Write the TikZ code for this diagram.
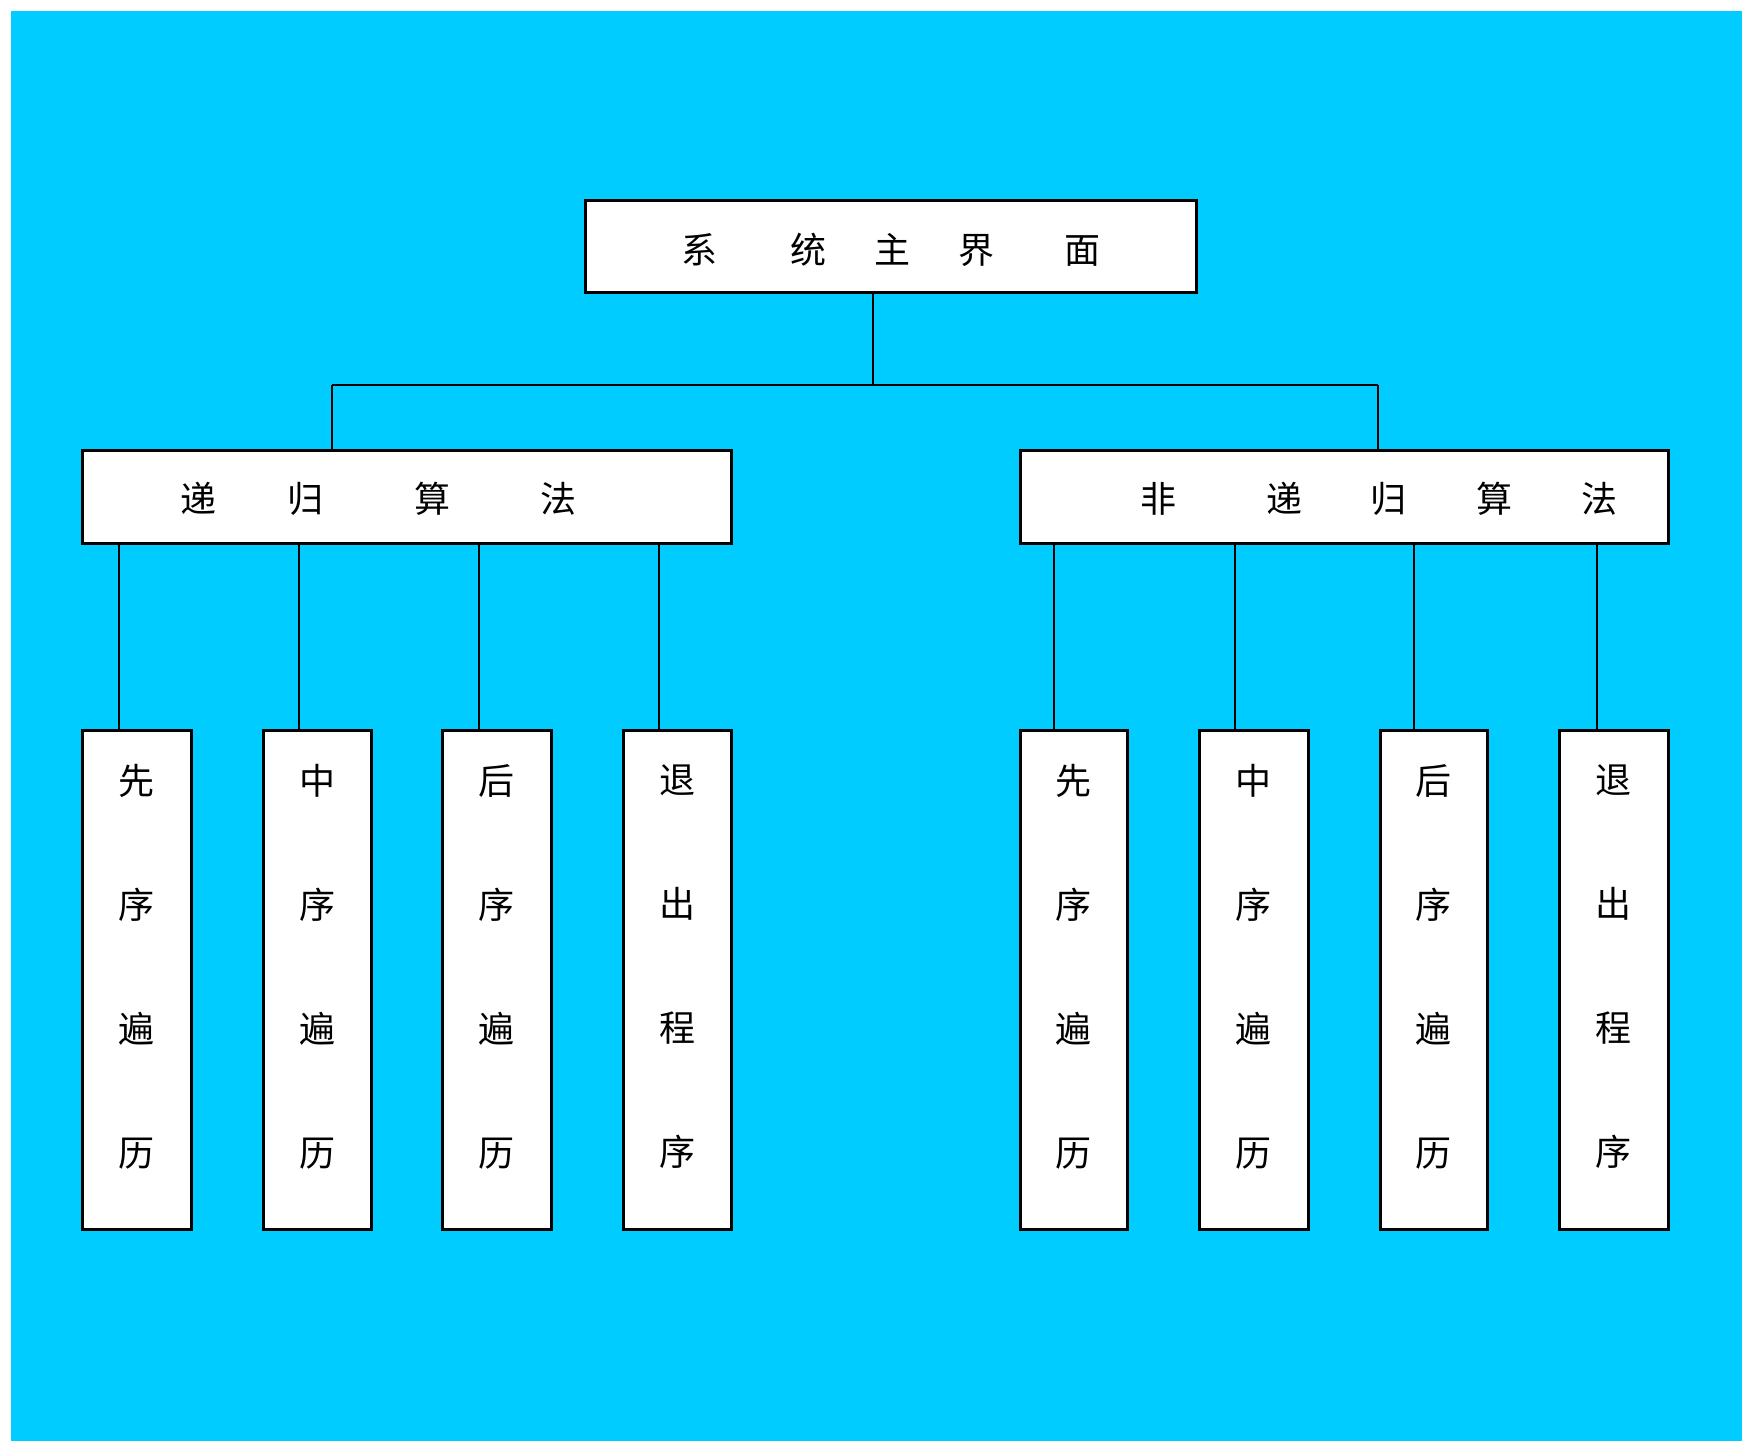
\documentclass[tikz,border=0pt]{standalone}
\usepackage{fontspec}
\newfontfamily\cjk{Noto Sans CJK SC}
\definecolor{bg}{HTML}{00CCFF}
\begin{document}
\begin{tikzpicture}[x=1pt,y=-1pt,
  box/.style={draw=black, line width=3pt, fill=white, inner sep=0pt},
  htext/.style={font=\cjk\fontsize{36}{36}\selectfont},
  leaf/.style={box, minimum height=499pt},
  vtext/.style={align=center, font=\cjk\fontsize{36}{124}\selectfont},
  conn/.style={line width=2.5pt}]
\useasboundingbox (0,0) rectangle (1742,1441);
\fill[bg] (11,11) rectangle (1742,1441);
% top
\node[box, minimum width=611pt, minimum height=92pt,
  label={[name=ttop,yshift=-4pt,htext]center:系\kern73pt 统\kern48pt 主\kern48pt 界\kern70pt 面}] (top) at (891,246) {};
% middle
\node[box, minimum width=649pt, minimum height=93pt,
  label={[name=tL,yshift=-2pt,htext]center:递\kern71.5pt 归\kern90.5pt 算\kern90pt 法\kern56pt}] (L) at (406.5,496.5) {};
\node[box, minimum width=648pt, minimum height=93pt,
  label={[name=tR,yshift=-2pt,htext]center:\kern70pt 非\kern90pt 递\kern69pt 归\kern69pt 算\kern70pt 法}] (R) at (1344,496.5) {};
% leaves
\node[leaf, minimum width=109pt, label={[name=t1,yshift=13pt,vtext]center:先\\序\\遍\\历}] (c1) at (136.5,979.5) {};
\node[leaf, minimum width=108pt, label={[name=t2,yshift=13pt,vtext]center:中\\序\\遍\\历}] (c2) at (317,979.5) {};
\node[leaf, minimum width=109pt, label={[name=t3,yshift=13pt,vtext]center:后\\序\\遍\\历}] (c3) at (496.5,979.5) {};
\node[leaf, minimum width=108pt, label={[name=t4,yshift=13pt,vtext]center:退\\出\\程\\序}] (c4) at (677,979.5) {};
\node[leaf, minimum width=107pt, label={[name=u1,yshift=13pt,vtext]center:先\\序\\遍\\历}] (d1) at (1073.5,979.5) {};
\node[leaf, minimum width=109pt, label={[name=u2,yshift=13pt,vtext]center:中\\序\\遍\\历}] (d2) at (1253.5,979.5) {};
\node[leaf, minimum width=107pt, label={[name=u3,yshift=13pt,vtext]center:后\\序\\遍\\历}] (d3) at (1433.5,979.5) {};
\node[leaf, minimum width=109pt, label={[name=u4,yshift=13pt,vtext]center:退\\出\\程\\序}] (d4) at (1613.5,979.5) {};
% connectors
\coordinate (bus) at (873,385);
\coordinate (jL) at (332,385);
\coordinate (jR) at (1378,385);
\draw[conn] (top.south -| bus) -- (bus);
\draw[conn] (jL) -- (jR);
\draw[conn] (jL) -- (jL |- L.north);
\draw[conn] (jR) -- (jR |- R.north);
\foreach \n/\d in {c1/-17.5, c2/-18, c3/-17.5, c4/-18}{
  \coordinate (a\n) at ([xshift=\d pt]\n.north);
  \draw[conn] (a\n) -- (a\n |- L.south);
}
\foreach \n/\d in {d1/-19.5, d2/-18.5, d3/-19.5, d4/-16.5}{
  \coordinate (a\n) at ([xshift=\d pt]\n.north);
  \draw[conn] (a\n) -- (a\n |- R.south);
}
\end{tikzpicture}
\end{document}
